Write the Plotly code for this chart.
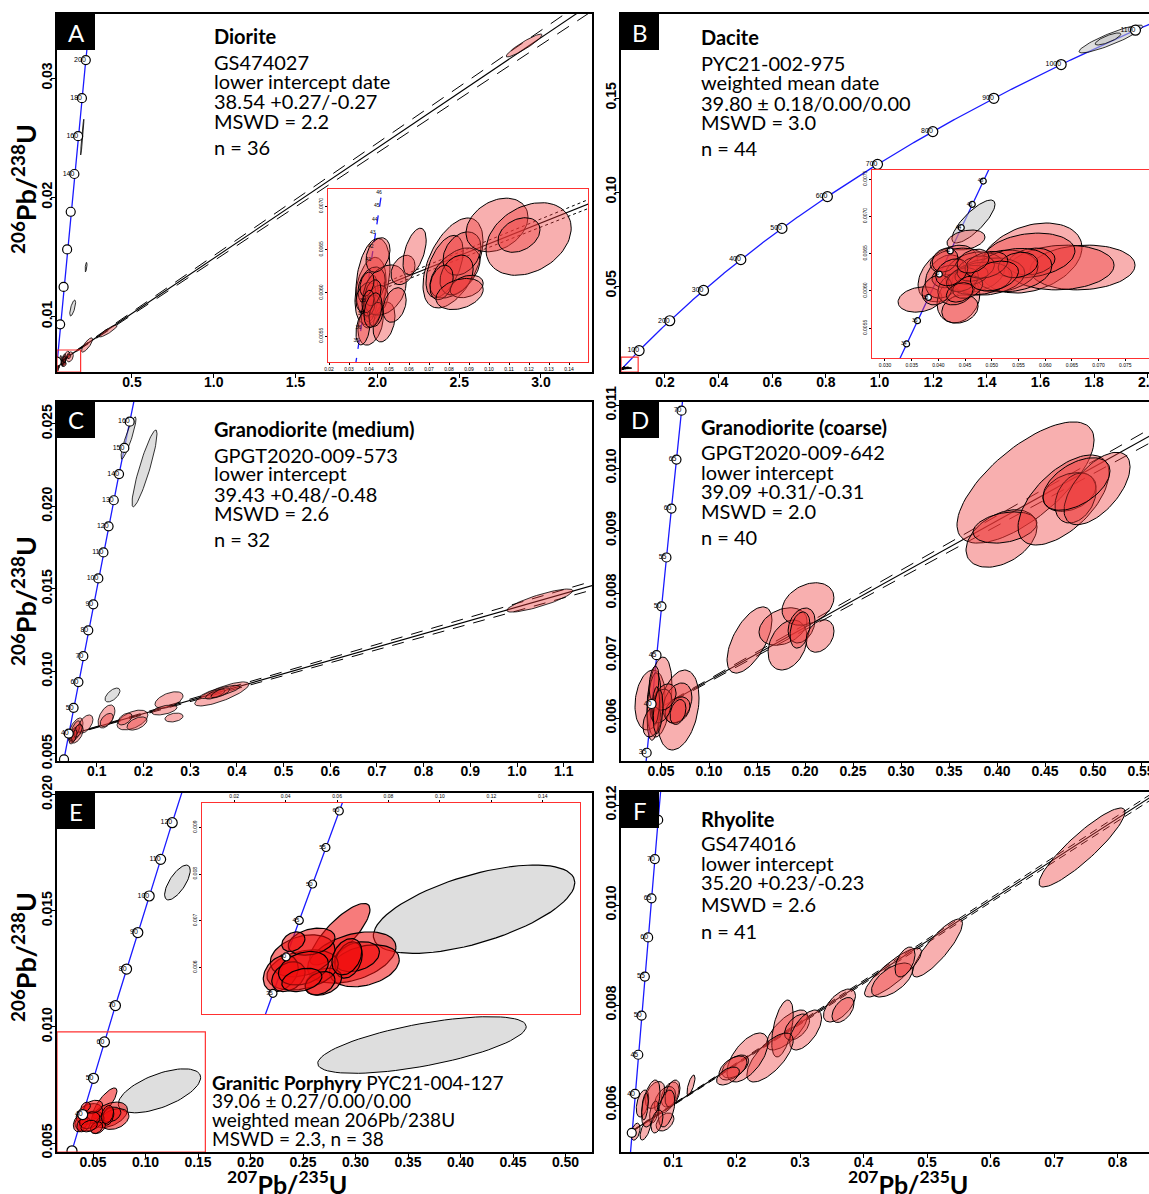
import numpy as np
import plotly.graph_objects as go

W, H = 1149, 1194
LAMBDA_238 = 1.55125e-10
LAMBDA_235 = 9.8485e-10

# ------------------------------------------------------------------ data
# concordia tick ages (Ma) and which of them carry a label
A_ages = [40, 60, 80, 100, 120, 140, 160, 180, 200, 220]
A_label_ages = [140, 160, 180, 200]
B_ages = [100, 200, 300, 400, 500, 600, 700, 800, 900, 1000, 1100]
B_label_ages = B_ages
C_ages = [30, 40, 50, 60, 70, 80, 90, 100, 110, 120, 130, 140, 150, 160]
C_label_ages = [40, 50, 60, 70, 80, 90, 100, 110, 120, 130, 140, 150, 160]
D_ages = [35, 40, 45, 50, 55, 60, 65, 70]
D_label_ages = D_ages
E_ages = [30, 40, 50, 60, 70, 80, 90, 100, 110, 120]
E_label_ages = [40, 50, 60, 70, 80, 90, 100, 110, 120]
F_ages = [35, 40, 45, 50, 55, 60, 65, 70, 75]
F_label_ages = [40, 45, 50, 55, 60, 65, 70]
Ai_label_ages = [35, 36, 37, 38, 41, 42, 43, 44, 45, 46]
Bi_ages = [34, 36, 38, 40, 42, 44, 46, 48]
Ei_ages = [35, 40, 45, 50, 55, 60]

# discordia: two points on the regression line and envelope half-width at each
A_disc_x = [0.0387, 3.5]
A_disc_y = [0.0060, 0.038017]
A_disc_err = [0.00003, 0.00070]
C_disc_x = [0.0396, 1.2]
C_disc_y = [0.006135, 0.015511]
C_disc_err = [0.00002, 0.00027]
D_disc_x = [0.0392, 0.6]
D_disc_y = [0.006082, 0.010860]
D_disc_err = [0.00001, 0.00012]
F_disc_x = [0.0353, 0.9]
F_disc_y = [0.005475, 0.012548]
F_disc_err = [0.00001, 0.00006]

# ellipses: (207Pb/235U, half-width, 206Pb/238U, half-height, rho, kind)
A_ell = [
    (2.897, 0.11, 0.03273, 0.00096, 0.93, 'r'),
    (0.354, 0.055, 0.00879, 0.0005, 0.9, 'r'),
    (0.225, 0.034, 0.00762, 0.0006, 0.8, 'r'),
    (0.1375, 0.018, 0.01072, 0.00067, 0.7, 'g'),
    (0.219, 0.006, 0.01415, 0.0004, 0.6, 'g'),
    (0.196, 0.01, 0.02505, 0.0015, 0.95, 'g'),
    (0.0408, 0.0078, 0.00602, 0.00039, 0.3, 'r'),
    (0.042, 0.0085, 0.00617, 0.00046, 0.3, 'r'),
    (0.0408, 0.0063, 0.005645, 0.00025, 0.3, 'r'),
    (0.0475, 0.0055, 0.005662, 0.00023, 0.3, 'r'),
    (0.0408, 0.0038, 0.005934, 0.00027, 0.3, 'r'),
    (0.0413, 0.0068, 0.006079, 0.00022, 0.3, 'r'),
    (0.0385, 0.005, 0.00595, 0.00017, 0.3, 'r'),
    (0.044, 0.0055, 0.005917, 0.00017, 0.3, 'r'),
    (0.041, 0.005, 0.005784, 0.00019, 0.3, 'r'),
    (0.0478, 0.0108, 0.006032, 0.00029, 0.3, 'r'),
    (0.0445, 0.006, 0.006437, 0.0002, 0.3, 'r'),
    (0.0528, 0.0058, 0.005859, 0.0002, 0.3, 'r'),
    (0.057, 0.006, 0.006264, 0.00017, 0.3, 'r'),
    (0.037, 0.0035, 0.005587, 0.00019, 0.3, 'r'),
    (0.040, 0.003, 0.00585, 0.00012, 0.3, 'r'),
    (0.042, 0.004, 0.00600, 0.00015, 0.3, 'r'),
    (0.039, 0.0035, 0.00610, 0.00014, 0.3, 'r'),
    (0.0435, 0.0035, 0.00575, 0.00014, 0.3, 'r'),
    (0.0395, 0.003, 0.00590, 0.00013, 0.3, 'r'),
    (0.042, 0.0045, 0.0058, 0.0002, 0.3, 'r'),
    (0.0628, 0.0058, 0.006477, 0.00027, 0.5, 'r'),
    (0.082, 0.015, 0.006345, 0.00052, 0.5, 'r'),
    (0.0778, 0.0093, 0.006304, 0.00036, 0.5, 'r'),
    (0.083, 0.0125, 0.006229, 0.00029, 0.5, 'r'),
    (0.0865, 0.0095, 0.006454, 0.00025, 0.3, 'r'),
    (0.0838, 0.0083, 0.006206, 0.00023, 0.3, 'r'),
    (0.0888, 0.0083, 0.006073, 0.00013, 0.3, 'r'),
    (0.0763, 0.0058, 0.006119, 0.0002, 0.3, 'r'),
    (0.0853, 0.0118, 0.005986, 0.00018, 0.3, 'r'),
    (0.104, 0.0155, 0.006784, 0.00031, 0.3, 'r'),
    (0.1198, 0.0213, 0.006622, 0.00042, 0.3, 'r'),
    (0.115, 0.0105, 0.006668, 0.0002, 0.3, 'r'),
]

B_ell = [
    (1.863, 0.119, 0.1814, 0.0074, 0.9, 'g'),
    (1.852, 0.048, 0.1814, 0.0032, 0.8, 'g'),
    (0.04657, 0.00403, 0.006931, 0.000288, 0.8, 'g'),
    (0.04517, 0.00356, 0.006683, 0.000134, 0.3, 'r'),
    (0.05734, 0.00955, 0.006441, 0.00047, 0.3, 'r'),
    (0.067, 0.00983, 0.006314, 0.0003, 0.1, 'r'),
    (0.063, 0.0099, 0.006314, 0.0003, 0.1, 'r'),
    (0.05697, 0.0086, 0.006475, 0.0003, 0.2, 'r'),
    (0.05743, 0.0044, 0.006394, 0.00018, 0.2, 'r'),
    (0.05182, 0.00684, 0.006267, 0.00028, 0.2, 'r'),
    (0.0418, 0.0056, 0.006233, 0.00038, 0.4, 'r'),
    (0.03655, 0.0041, 0.005885, 0.00017, 0.2, 'r'),
    (0.04376, 0.004, 0.005892, 0.00032, 0.2, 'r'),
    (0.04404, 0.0034, 0.005757, 0.00019, 0.2, 'r'),
    (0.04124, 0.0037, 0.006193, 0.00029, 0.3, 'r'),
    (0.04358, 0.0051, 0.006394, 0.00018, 0.2, 'r'),
    (0.04685, 0.0056, 0.006254, 0.00027, 0.2, 'r'),
    (0.04938, 0.0068, 0.006193, 0.00025, 0.2, 'r'),
    (0.0419, 0.0031, 0.006193, 0.00015, 0.2, 'r'),
    (0.0434, 0.0035, 0.006032, 0.00022, 0.2, 'r'),
    (0.05406, 0.0072, 0.00628, 0.00029, 0.2, 'r'),
    (0.04779, 0.006, 0.006167, 0.00022, 0.2, 'r'),
    (0.04124, 0.0024, 0.006414, 0.00016, 0.2, 'r'),
    (0.0549, 0.0037, 0.006348, 0.00017, 0.2, 'r'),
    (0.0462, 0.0031, 0.006213, 0.00013, 0.2, 'r'),
    (0.03974, 0.0028, 0.006012, 0.0002, 0.2, 'r'),
    (0.0445, 0.003, 0.00615, 0.00016, 0.3, 'r'),
    (0.0470, 0.0035, 0.0063, 0.00017, 0.3, 'r'),
    (0.0455, 0.0028, 0.00605, 0.00015, 0.3, 'r'),
    (0.0490, 0.004, 0.00635, 0.00018, 0.3, 'r'),
    (0.0425, 0.003, 0.00625, 0.00018, 0.3, 'r'),
    (0.0505, 0.0045, 0.0062, 0.0002, 0.3, 'r'),
    (0.0465, 0.003, 0.0064, 0.00016, 0.3, 'r'),
    (0.044, 0.0025, 0.00598, 0.00013, 0.3, 'r'),
]

C_ell = [
    (1.049, 0.0707, 0.01429, 0.0007, 0.85, 'r'),
    (0.368, 0.058, 0.00863, 0.00073, 0.8, 'r'),
    (0.364, 0.043, 0.00875, 0.0004, 0.8, 'r'),
    (0.354, 0.021, 0.00862, 0.0003, 0.7, 'r'),
    (0.365, 0.02, 0.0087, 0.0003, 0.7, 'r'),
    (0.2548, 0.03, 0.008262, 0.0005, 0.5, 'r'),
    (0.245, 0.027, 0.007655, 0.0003, 0.5, 'r'),
    (0.2655, 0.0193, 0.0072, 0.00027, 0.3, 'r'),
    (0.1767, 0.033, 0.007049, 0.0006, 0.5, 'r'),
    (0.1863, 0.0214, 0.006837, 0.0004, 0.5, 'r'),
    (0.1606, 0.015, 0.00711, 0.00036, 0.5, 'r'),
    (0.121, 0.018, 0.007261, 0.0007, 0.5, 'r'),
    (0.1214, 0.014, 0.00705, 0.0004, 0.5, 'r'),
    (0.1338, 0.016, 0.008565, 0.00042, 0.6, 'g'),
    (0.0546, 0.016, 0.006443, 0.00073, 0.6, 'r'),
    (0.076, 0.016, 0.006806, 0.00055, 0.5, 'r'),
    (0.0571, 0.014, 0.0062, 0.00055, 0.5, 'r'),
    (0.050, 0.008, 0.0062, 0.0004, 0.6, 'r'),
    (0.055, 0.01, 0.0065, 0.0005, 0.6, 'r'),
    (0.048, 0.007, 0.0059, 0.0003, 0.5, 'r'),
    (0.060, 0.009, 0.0064, 0.0004, 0.5, 'r'),
    (0.052, 0.006, 0.0061, 0.00035, 0.5, 'r'),
    (0.1681, 0.016, 0.024144, 0.00128, 0.9, 'g'),
    (0.2024, 0.0268, 0.0223, 0.00233, 0.9, 'g'),
]

D_ell = [
    (0.4297, 0.0714, 0.009768, 0.00097, 0.7, 'r'),
    (0.4047, 0.037, 0.008872, 0.00046, 0.4, 'r'),
    (0.4083, 0.0333, 0.009048, 0.00025, 0.3, 'r'),
    (0.4693, 0.0474, 0.009488, 0.00072, 0.6, 'r'),
    (0.4755, 0.0276, 0.009616, 0.00031, 0.3, 'r'),
    (0.4818, 0.0214, 0.00952, 0.0004, 0.3, 'r'),
    (0.5042, 0.0344, 0.009672, 0.00058, 0.6, 'r'),
    (0.4828, 0.0349, 0.009744, 0.00042, 0.5, 'r'),
    (0.1422, 0.0234, 0.007248, 0.00053, 0.6, 'r'),
    (0.1771, 0.025, 0.007464, 0.0003, 0.3, 'r'),
    (0.1818, 0.0203, 0.007168, 0.0004, 0.3, 'r'),
    (0.2031, 0.027, 0.007824, 0.00034, 0.3, 'r'),
    (0.1964, 0.014, 0.00748, 0.00028, 0.3, 'r'),
    (0.1948, 0.0104, 0.007408, 0.00029, 0.3, 'r'),
    (0.2156, 0.0146, 0.007312, 0.00026, 0.3, 'r'),
    (0.0385, 0.0156, 0.006288, 0.00048, 0.2, 'r'),
    (0.0484, 0.013, 0.006336, 0.00064, 0.3, 'r'),
    (0.0682, 0.0214, 0.006128, 0.00064, 0.3, 'r'),
    (0.0672, 0.015, 0.00624, 0.00032, 0.3, 'r'),
    (0.0427, 0.0073, 0.006184, 0.00054, 0.3, 'r'),
    (0.0672, 0.013, 0.006128, 0.00021, 0.3, 'r'),
    (0.0677, 0.0083, 0.006096, 0.0002, 0.3, 'r'),
    (0.05, 0.0115, 0.006192, 0.00027, 0.3, 'r'),
    (0.0406, 0.0094, 0.005936, 0.00024, 0.3, 'r'),
    (0.0542, 0.0115, 0.006336, 0.00021, 0.3, 'r'),
    (0.0427, 0.0052, 0.00656, 0.00027, 0.3, 'r'),
    (0.0445, 0.004, 0.0062, 0.0003, 0.3, 'r'),
    (0.0470, 0.005, 0.0061, 0.00035, 0.3, 'r'),
]

E_ell = [
    (0.1304, 0.0122, 0.016214, 0.00075, 0.7, 'g'),
    (0.3633, 0.0993, 0.009219, 0.00122, 0.65, 'g'),
    (0.1133, 0.0392, 0.007247, 0.000947, 0.6, 'g'),
    (0.0611, 0.0117, 0.006711, 0.00066, 0.8, 'R'),
    (0.0657, 0.0172, 0.006212, 0.00055, 0.4, 'R'),
    (0.0706, 0.0136, 0.006034, 0.00045, 0.3, 'R'),
    (0.0677, 0.0088, 0.006229, 0.00032, 0.3, 'R'),
    (0.0645, 0.0053, 0.006159, 0.00039, 0.3, 'R'),
    (0.0547, 0.0071, 0.005694, 0.00029, 0.3, 'R'),
    (0.0466, 0.0139, 0.005944, 0.00043, 0.3, 'R'),
    (0.0466, 0.0126, 0.006248, 0.00045, 0.3, 'R'),
    (0.0501, 0.0091, 0.006551, 0.00029, 0.3, 'R'),
    (0.0381, 0.0068, 0.005873, 0.00039, 0.3, 'R'),
    (0.0411, 0.0065, 0.005801, 0.00032, 0.3, 'R'),
    (0.0469, 0.0097, 0.005981, 0.00036, 0.3, 'R'),
    (0.0534, 0.0058, 0.00566, 0.00025, 0.3, 'R'),
    (0.0638, 0.0058, 0.006229, 0.00039, 0.3, 'R'),
    (0.043, 0.0045, 0.006551, 0.00021, 0.3, 'R'),
    (0.0463, 0.0078, 0.00573, 0.00025, 0.3, 'R'),
]

F_ell = [
    (0.7441, 0.0677, 0.01115, 0.00079, 0.9, 'r'),
    (0.5165, 0.0394, 0.00914, 0.00058, 0.85, 'r'),
    (0.4465, 0.0449, 0.00865, 0.00049, 0.85, 'r'),
    (0.4449, 0.0323, 0.0085, 0.00034, 0.6, 'r'),
    (0.4654, 0.0157, 0.00886, 0.0003, 0.5, 'r'),
    (0.3622, 0.0252, 0.00799, 0.00033, 0.6, 'r'),
    (0.3677, 0.0173, 0.0079, 0.00025, 0.5, 'r'),
    (0.2795, 0.0323, 0.0075, 0.0004, 0.7, 'r'),
    (0.2724, 0.0169, 0.00753, 0.00057, 0.5, 'r'),
    (0.2953, 0.0197, 0.00756, 0.00026, 0.5, 'r'),
    (0.3088, 0.0252, 0.0075, 0.0004, 0.6, 'r'),
    (0.2528, 0.0365, 0.00695, 0.00049, 0.7, 'r'),
    (0.2173, 0.0323, 0.00695, 0.00049, 0.6, 'r'),
    (0.1981, 0.021, 0.00677, 0.00023, 0.5, 'r'),
    (0.1945, 0.022, 0.00674, 0.00024, 0.5, 'r'),
    (0.1866, 0.018, 0.00658, 0.00018, 0.5, 'r'),
    (0.1283, 0.0063, 0.0064, 0.0002, 0.7, 'r'),
    (0.0953, 0.014, 0.00621, 0.00025, 0.4, 'r'),
    (0.0874, 0.0168, 0.0061, 0.00027, 0.4, 'r'),
    (0.0717, 0.0154, 0.0062, 0.00027, 0.4, 'r'),
    (0.052, 0.0098, 0.00603, 0.00027, 0.4, 'r'),
    (0.0701, 0.007, 0.00586, 0.00022, 0.4, 'r'),
    (0.0564, 0.0083, 0.0055, 0.0002, 0.6, 'r'),
    (0.0411, 0.007, 0.005466, 0.00017, 0.4, 'r'),
    (0.0874, 0.014, 0.00566, 0.00018, 0.4, 'r'),
    (0.065, 0.0145, 0.00603, 0.00047, 0.5, 'r'),
    (0.0992, 0.0118, 0.00623, 0.00027, 0.4, 'r'),
    (0.0898, 0.013, 0.00593, 0.00037, 0.4, 'r'),
    (0.0559, 0.0052, 0.00597, 0.00027, 0.4, 'r'),
    (0.0748, 0.0094, 0.00567, 0.00023, 0.4, 'r'),
]

# zoom-window rectangles drawn on the main panels
A_box = [0.0416, 0.186, 0.005355, 0.0072]
B_box = [0.036, 0.10, 0.004255, 0.0122]
E_box = [0.0157, 0.157, 0.004613, 0.00978]

# axis ranges
A_xr, A_yr = [0.0416, 3.3118], [0.005355, 0.035371]
B_xr, B_yr = [0.036, 2.005], [0.004255, 0.19468]
C_xr, C_yr = [0.015, 1.1606], [0.004564, 0.026326]
D_xr, D_yr = [0.00833, 0.5583], [0.005312, 0.011056]
E_xr, E_yr = [0.01571, 0.52524], [0.004613, 0.020067]
F_xr, F_yr = [0.01811, 0.8496], [0.00506, 0.01226]
Ai_xr, Ai_yr = [0.0195, 0.1495], [0.0052, 0.0072]
Bi_xr, Bi_yr = [0.02757, 0.07944], [0.0051, 0.007622]
Ei_xr, Ei_yr = [0.00747, 0.15449], [0.005001, 0.009522]

# ------------------------------------------------------------------ helpers
def conc(ages):
    t = np.asarray(ages, float) * 1e6
    return np.exp(LAMBDA_235 * t) - 1, np.exp(LAMBDA_238 * t) - 1

FILL = {'r': 'rgba(238,55,55,0.40)', 'R': 'rgba(240,15,15,0.55)', 'g': 'rgba(195,195,195,0.55)'}
TICKFONT = dict(family='Liberation Sans', size=14, color='black', weight='bold')
TXT = 'Lato'

fig = go.Figure()


def ax(i):
    return ('x' if i == 1 else 'x%d' % i), ('y' if i == 1 else 'y%d' % i)


def add_concordia(i, amax, ages, label_ages, msize=9, lsize=7, dash='solid', markers=True):
    xa, ya = ax(i)
    cx, cy = conc(np.linspace(0, amax, 600))
    fig.add_trace(go.Scatter(x=cx, y=cy, mode='lines', line=dict(color='#1a1aff', width=1.3, dash=dash),
                             xaxis=xa, yaxis=ya, hoverinfo='skip', showlegend=False, cliponaxis=True))
    return (i, ages, label_ages, msize, lsize, markers)


def add_markers(spec):
    i, ages, label_ages, msize, lsize, markers = spec
    xa, ya = ax(i)
    if markers and ages:
        mx, my = conc(ages)
        fig.add_trace(go.Scatter(x=mx, y=my, mode='markers', xaxis=xa, yaxis=ya,
                                 marker=dict(size=msize, color='white', line=dict(color='black', width=1.2)),
                                 hoverinfo='skip', showlegend=False, cliponaxis=True))
    if label_ages:
        lx, ly = conc(label_ages)
        fig.add_trace(go.Scatter(x=lx, y=ly, mode='text', text=[str(a) for a in label_ages],
                                 textposition='middle left', xaxis=xa, yaxis=ya,
                                 textfont=dict(size=lsize, color='black', family='Liberation Sans'),
                                 hoverinfo='skip', showlegend=False, cliponaxis=True))


def add_discordia(i, dx, dy, derr, env_dash='14px,10px', env_width=1.0):
    xa, ya = ax(i)
    fig.add_trace(go.Scatter(x=dx, y=dy, mode='lines', line=dict(color='black', width=1.1),
                             xaxis=xa, yaxis=ya, hoverinfo='skip', showlegend=False))
    for s in (1, -1):
        fig.add_trace(go.Scatter(x=dx, y=[dy[0] + s * derr[0], dy[1] + s * derr[1]], mode='lines',
                                 line=dict(color='black', width=env_width, dash=env_dash),
                                 xaxis=xa, yaxis=ya, hoverinfo='skip', showlegend=False))


T = np.linspace(0, 2 * np.pi, 80)


def add_ellipses(i, ell, lw=1.0):
    xa, ya = ax(i)
    for (x, sx, y, sy, rho, k) in ell:
        ex = x + sx * np.cos(T)
        ey = y + sy * (rho * np.cos(T) + np.sqrt(1 - rho ** 2) * np.sin(T))
        fig.add_trace(go.Scatter(x=ex, y=ey, mode='lines', fill='toself', fillcolor=FILL[k],
                                 line=dict(color='black', width=lw), xaxis=xa, yaxis=ya,
                                 hoverinfo='skip', showlegend=False))


# ------------------------------------------------------------------ traces
sA = add_concordia(1, 240, A_ages, A_label_ages)
add_discordia(1, A_disc_x, A_disc_y, A_disc_err)
add_ellipses(1, A_ell, 0.8)
add_markers(sA)

sB = add_concordia(2, 1200, B_ages, B_label_ages, msize=10)
add_ellipses(2, B_ell, 0.8)
add_markers(sB)

sC = add_concordia(3, 170, C_ages, C_label_ages)
add_discordia(3, C_disc_x, C_disc_y, C_disc_err, env_dash='12px,9px')
add_ellipses(3, C_ell, 0.8)
add_markers(sC)

sD = add_concordia(4, 75, D_ages, D_label_ages)
add_discordia(4, D_disc_x, D_disc_y, D_disc_err, env_dash='14px,10px')
add_ellipses(4, D_ell, 1.0)
add_markers(sD)

sE = add_concordia(5, 140, E_ages, E_label_ages, msize=10)
add_ellipses(5, E_ell, 1.0)
add_markers(sE)

sF = add_concordia(6, 80, F_ages, F_label_ages)
add_discordia(6, F_disc_x, F_disc_y, F_disc_err, env_dash='8px,5px')
add_ellipses(6, F_ell, 1.0)
add_markers(sF)

sAi = add_concordia(7, 50, [], Ai_label_ages, lsize=5, dash='dash', markers=False)
add_discordia(7, A_disc_x, A_disc_y, A_disc_err, env_dash='dot', env_width=1.0)
add_ellipses(7, A_ell, 1.0)
add_markers(sAi)

sBi = add_concordia(8, 55, Bi_ages, Bi_ages, msize=6, lsize=5)
add_ellipses(8, B_ell, 1.0)
add_markers(sBi)

sEi = add_concordia(9, 70, Ei_ages, Ei_ages, msize=8, lsize=6)
add_ellipses(9, E_ell, 1.2)
add_markers(sEi)

# ------------------------------------------------------------------ axes
FRAME = {
    1: (57, 592, 14, 372), 2: (621, 1149, 14, 372),
    3: (57, 592, 402, 761), 4: (621, 1149, 402, 761),
    5: (57, 592, 793, 1152), 6: (621, 1149, 792, 1152),
    7: (328, 588, 189, 362), 8: (872, 1149, 170, 358), 9: (202, 580, 803, 1014),
}
AXCFG = {
    1: (A_xr, A_yr, 0.5, '.1f', 0.01, '.2f'),
    2: (B_xr, B_yr, 0.2, '.1f', 0.05, '.2f'),
    3: (C_xr, C_yr, 0.1, '.1f', 0.005, '.3f'),
    4: (D_xr, D_yr, 0.05, '.2f', 0.001, '.3f'),
    5: (E_xr, E_yr, 0.05, '.2f', 0.005, '.3f'),
    6: (F_xr, F_yr, 0.1, '.1f', 0.002, '.3f'),
    7: (Ai_xr, Ai_yr, 0.01, '.2f', 0.0005, '.4f'),
    8: (Bi_xr, Bi_yr, 0.005, '.3f', 0.0005, '.4f'),
    9: (Ei_xr, Ei_yr, 0.02, '.2f', 0.001, '.3f'),
}
layout_axes = {}
for i, (l, r, t, b) in FRAME.items():
    xr, yr, xdt, xf, ydt, yf = AXCFG[i]
    inset = i >= 7
    sfx = '' if i == 1 else str(i)
    col = '#ff3030' if inset else 'black'
    tf = dict(family='Liberation Sans', size=5, color='black') if inset else TICKFONT
    xso = 0 if inset else -8
    yso = 0 if inset else -6
    layout_axes['xaxis' + sfx] = dict(
        domain=[l / W, r / W], range=xr, anchor='y' + sfx, showline=True, linecolor=col,
        linewidth=1.3 if inset else 1.5, mirror=True, ticks='outside', ticklen=2 if inset else 4,
        tickwidth=1, tickcolor='black', tick0=0, dtick=xdt, tickformat=xf, showgrid=False,
        zeroline=False, tickfont=tf, side='top' if i == 9 else 'bottom', fixedrange=True,
        automargin=False, ticklabeloverflow='allow', ticklabelstandoff=xso)
    layout_axes['yaxis' + sfx] = dict(
        domain=[1 - b / H, 1 - t / H], range=yr, anchor='x' + sfx, showline=True, linecolor=col,
        linewidth=1.3 if inset else 1.5, mirror=(i not in (2, 4, 6)), ticks='outside',
        ticklen=2 if inset else 4, tickwidth=1, tickcolor='black', tick0=0, dtick=ydt,
        tickformat=yf, showgrid=False, zeroline=False, tickfont=tf, tickangle=-90, fixedrange=True,
        automargin=False, ticklabeloverflow='allow', ticklabelstandoff=yso)

# ------------------------------------------------------------------ shapes & text
shapes = []
for (i, bx) in ((1, A_box), (2, B_box), (5, E_box)):
    xa, ya = ax(i)
    shapes.append(dict(type='rect', xref=xa, yref=ya, x0=bx[0], x1=bx[1], y0=bx[2], y1=bx[3],
                       line=dict(color='#ff3030', width=1.2), layer='above'))

LETTERS = [('A', 57, 14), ('B', 621, 14), ('C', 57, 402), ('D', 621, 402), ('E', 57, 793), ('F', 621, 792)]
annotations = []
for (lt, px, py) in LETTERS:
    shapes.append(dict(type='rect', xref='paper', yref='paper', x0=px / W, x1=(px + 38) / W,
                       y0=1 - (py + 36) / H, y1=1 - py / H, fillcolor='black', line=dict(width=0),
                       layer='above'))
    annotations.append(dict(x=(px + 19) / W, y=1 - (py + 18) / H, xref='paper', yref='paper',
                            text=lt, showarrow=False, font=dict(family=TXT, size=24, color='white'),
                            xanchor='center', yanchor='middle'))

PANEL_TEXT = [
    (212, 20, [(36, '<b>Diorite</b>'), (62, 'GS474027'), (81, 'lower intercept date'),
               (101, '38.54 +0.27/-0.27'), (121, 'MSWD = 2.2'), (147, 'n = 36')]),
    (699, 20, [(37, '<b>Dacite</b>'), (63, 'PYC21-002-975'), (82, 'weighted mean date'),
               (103, '39.80 ± 0.18/0.00/0.00'), (122, 'MSWD = 3.0'), (148, 'n = 44')]),
    (212, 20, [(429, '<b>Granodiorite (medium)</b>'), (455, 'GPGT2020-009-573'), (473, 'lower intercept'),
               (494, '39.43 +0.48/-0.48'), (513, 'MSWD = 2.6'), (539, 'n = 32')]),
    (699, 20, [(427, '<b>Granodiorite (coarse)</b>'), (452, 'GPGT2020-009-642'), (472, 'lower intercept'),
               (491, '39.09 +0.31/-0.31'), (511, 'MSWD = 2.0'), (537, 'n = 40')]),
    (699, 20, [(819, '<b>Rhyolite</b>'), (843, 'GS474016'), (863, 'lower intercept'),
               (882, '35.20 +0.23/-0.23'), (904, 'MSWD = 2.6'), (931, 'n = 41')]),
    (210, 19, [(1082, '<b>Granitic Porphyry</b> PYC21-004-127'), (1100, '39.06 ± 0.27/0.00/0.00'),
               (1119, 'weighted mean 206Pb/238U'), (1138, 'MSWD = 2.3, n = 38')]),
]
for (px, fs, lines) in PANEL_TEXT:
    for (py, txt) in lines:
        annotations.append(dict(x=px / W, y=1 - py / H, xref='paper', yref='paper', text=txt,
                                showarrow=False, xanchor='left', yanchor='middle',
                                font=dict(family=TXT, size=fs, color='black')))

YTITLE = '<b><sup>206</sup>Pb/<sup>238</sup>U</b>'
XTITLE = '<b><sup>207</sup>Pb/<sup>235</sup>U</b>'
for py in (189, 601, 957):
    annotations.append(dict(x=24 / W, y=1 - py / H, xref='paper', yref='paper', text=YTITLE,
                            textangle=-90, showarrow=False, xanchor='center', yanchor='middle',
                            font=dict(family=TXT, size=27, color='black')))
for px in (287, 908):
    annotations.append(dict(x=px / W, y=0, xref='paper', yref='paper', text=XTITLE,
                            showarrow=False, xanchor='center', yanchor='bottom', yshift=-7,
                            font=dict(family=TXT, size=25, color='black')))

fig.update_layout(
    width=W, height=H, autosize=False, margin=dict(l=0, r=0, t=0, b=0, pad=0),
    paper_bgcolor='white', plot_bgcolor='white', showlegend=False, shapes=shapes,
    annotations=annotations, **layout_axes)

fig.write_html('out.html')
